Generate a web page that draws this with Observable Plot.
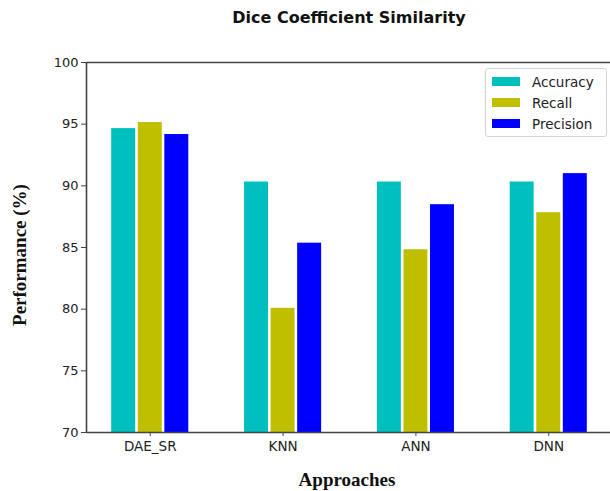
<!DOCTYPE html>
<html>
<head>
<meta charset="utf-8">
<script src="https://cdn.jsdelivr.net/npm/d3@7"></script>
<script src="https://cdn.jsdelivr.net/npm/@observablehq/plot@0.6"></script>
<style>
  body { margin: 0; background: #fff; overflow: hidden; }
  #wrap { position: relative; width: 610px; height: 491px; overflow: hidden; font-family: "DejaVu Sans", sans-serif; }
  #title { position: absolute; left: 149px; width: 400px; top: 8px; text-align: center;
           font: bold 16px "DejaVu Sans", sans-serif; color: #111; }
  .axis-title { position: absolute; white-space: nowrap; transform: translate(-50%, -50%);
                font: bold 19px "Liberation Serif", "Times New Roman", serif; color: #111; }
  #ylabel { left: 20px; top: 255px; transform: translate(-50%, -50%) rotate(-90deg); }
  #xlabel { left: 347px; top: 480px; }
  #chart { position: absolute; left: 0; top: 0; }
  #legend { position: absolute; left: 485px; top: 68px; width: 114px; height: 63px; padding: 2px 0 2px 6px;
            border: 1px solid #d4d4d4; border-radius: 3px; background: #fff; }
  #legend .lg-swatches { margin: 0 !important; font: 13.5px "DejaVu Sans", sans-serif !important; color: #222; }
  #legend .lg-swatch { height: 21px; padding: 0 !important; margin: 0 !important; display: flex; align-items: center; }
  #legend .lg-swatch svg { margin-right: 12px !important; }
</style>
</head>
<body>
<div id="wrap">
  <div id="title">Dice Coefficient Similarity</div>
  <div id="chart"></div>
  <div id="legend"></div>
  <div class="axis-title" id="ylabel">Performance (%)</div>
  <div class="axis-title" id="xlabel">Approaches</div>
</div>
<script>
// Dice coefficient similarity scores per approach
const approaches = ["DAE_SR", "KNN", "ANN", "DNN"];
const metrics = ["Accuracy", "Recall", "Precision"];
const accuracy = [94.64, 90.31, 90.31, 90.31];
const recall = [95.13, 80.07, 84.82, 87.82];
const precision = [94.16, 85.35, 88.47, 90.99];
const colors = ["#00bfbf", "#bfbf00", "#0000ff"];
const yTicks = [70, 75, 80, 85, 90, 95, 100];

// grouped bars: each metric takes a 0.2-wide slot around the approach index
const barWidth = 0.2;
const series = [accuracy, recall, precision];
const rows = [];
approaches.forEach((a, i) => {
  metrics.forEach((m, j) => {
    const center = i + (j - 1) * barWidth;
    rows.push({approach: a, metric: m, value: series[j][i],
               x1: center - barWidth / 2, x2: center + barWidth / 2});
  });
});

const xPad = 0.48;
const xMin = -xPad, xMax = approaches.length - 1 + xPad;
const yMin = yTicks[0], yMax = yTicks[yTicks.length - 1];
const spine = {stroke: "#444", strokeWidth: 1.6};

// the axes box runs a little past the right edge of the page
const marginLeft = 86, boxRight = 612;

const chart = Plot.plot({
  width: 610,
  height: 491,
  marginTop: 62,
  marginBottom: 59,
  marginLeft,
  marginRight: 0,
  style: {fontFamily: "DejaVu Sans, sans-serif", fontSize: "13px", color: "#222", background: "transparent"},
  x: {domain: [xMin, xMax], range: [marginLeft, boxRight]},
  y: {domain: [yMin, yMax]},
  color: {domain: metrics, range: colors},
  marks: [
    Plot.rectY(rows, {x1: "x1", x2: "x2", y1: yMin, y2: "value", fill: "metric", insetLeft: 1.3, insetRight: 1.3}),
    Plot.axisX({
      ticks: approaches.map((_, i) => i),
      tickFormat: i => approaches[i],
      tickSize: 4,
      tickPadding: 5,
      fontSize: 13.5,
      stroke: "#444",
      label: null
    }),
    Plot.axisY({ticks: yTicks, tickSize: 5, tickPadding: 3, fontSize: 13, stroke: "#444", label: null}),
    Plot.ruleY([yMin, yMax], {...spine, x1: xMin, x2: xMax}),
    Plot.ruleX([xMin], spine)
  ]
});
document.getElementById("chart").appendChild(chart);

const legend = chart.legend("color", {
  legend: "swatches",
  columns: 1,
  swatchWidth: 28,
  swatchHeight: 9,
  className: "lg"
});
document.getElementById("legend").appendChild(legend);
</script>
</body>
</html>
